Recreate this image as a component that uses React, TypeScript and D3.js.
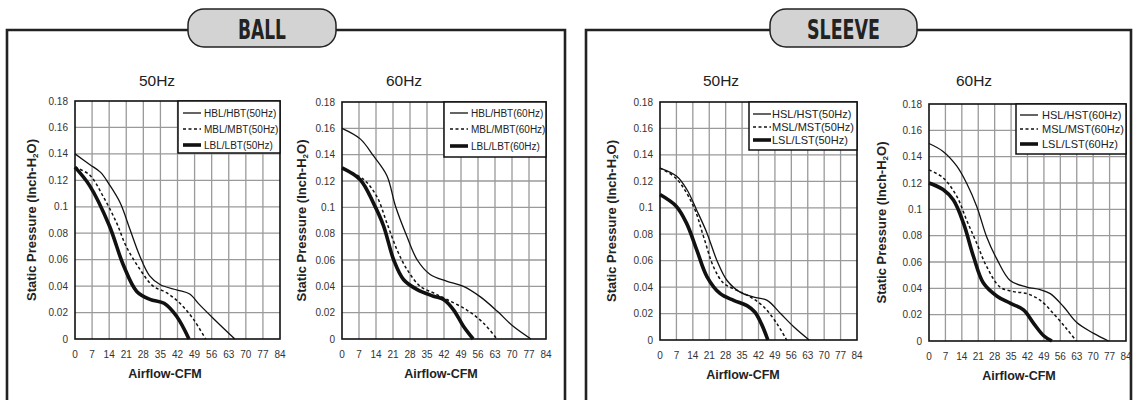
import React from "react";
import * as d3 from "d3";

// ---------- data ----------
const xTicks = [0, 7, 14, 21, 28, 35, 42, 49, 56, 63, 70, 77, 84];
const yTicks = [0, 0.02, 0.04, 0.06, 0.08, 0.1, 0.12, 0.14, 0.16, 0.18];
const yTickLabels = ["0", "0.02", "0.04", "0.06", "0.08", "0.1", "0.12", "0.14", "0.16", "0.18"];

type Pt = [number, number];

// BALL 50Hz
const ballH50: Pt[] = [[0, 0.14], [6, 0.132], [10.5, 0.126], [14, 0.117], [18.5, 0.103], [22.5, 0.083], [26.5, 0.063], [30.5, 0.048], [35, 0.041], [42, 0.037], [47, 0.034], [51, 0.026], [57, 0.015], [65.5, 0]];
const ballM50: Pt[] = [[0, 0.13], [6, 0.124], [11.5, 0.108], [17, 0.088], [21, 0.07], [26.5, 0.053], [32, 0.04], [37.5, 0.035], [43, 0.027], [48.5, 0.015], [53.5, 0]];
const ballL50: Pt[] = [[0, 0.13], [6, 0.116], [14, 0.086], [19.8, 0.056], [25.3, 0.036], [30.7, 0.03], [36.5, 0.027], [41.7, 0.017], [46.7, 0]];
// BALL 60Hz
const ballH60: Pt[] = [[0, 0.16], [7.5, 0.152], [13, 0.139], [18.5, 0.124], [22, 0.101], [26.7, 0.078], [31, 0.06], [36.3, 0.049], [43, 0.044], [50, 0.04], [57, 0.032], [64, 0.021], [70.5, 0.0096], [77.8, 0]];
const ballM60: Pt[] = [[0, 0.13], [9, 0.121], [14.4, 0.108], [18.5, 0.088], [22.6, 0.068], [26.7, 0.053], [32.2, 0.04], [37.7, 0.035], [43.2, 0.03], [51.4, 0.022], [58.3, 0.012], [63.8, 0]];
const ballL60: Pt[] = [[0, 0.13], [7.5, 0.121], [13, 0.103], [17.1, 0.086], [21.3, 0.06], [25.4, 0.045], [31, 0.0375], [37.7, 0.0325], [41.8, 0.03], [46, 0.022], [50, 0.0096], [54, 0]];
// SLEEVE 50Hz
const sleeveH50: Pt[] = [[0, 0.13], [7, 0.124], [11.4, 0.114], [15.7, 0.098], [20, 0.081], [24.3, 0.06], [28.6, 0.045], [34.3, 0.036], [40, 0.0325], [45.7, 0.03], [51.4, 0.02], [57, 0.01], [63.6, 0]];
const sleeveM50: Pt[] = [[0, 0.13], [7, 0.122], [14.3, 0.101], [18.6, 0.078], [22.9, 0.055], [27.1, 0.043], [32.9, 0.0375], [38.6, 0.0325], [44.3, 0.025], [50, 0.012], [54, 0]];
const sleeveL50: Pt[] = [[0, 0.11], [7, 0.101], [11.4, 0.088], [15.7, 0.068], [20, 0.048], [25.7, 0.035], [31.4, 0.03], [37.1, 0.026], [40.5, 0.021], [43.3, 0.012], [46, 0]];
// SLEEVE 60Hz
const sleeveH60: Pt[] = [[0, 0.15], [6, 0.144], [11.8, 0.133], [16, 0.12], [20.4, 0.102], [24.6, 0.079], [29, 0.062], [34.6, 0.046], [41.7, 0.041], [47.4, 0.039], [51.7, 0.036], [57.4, 0.026], [63, 0.014], [70, 0.006], [76.6, 0]];
const sleeveM60: Pt[] = [[0, 0.13], [6, 0.124], [11.8, 0.11], [16, 0.092], [20.4, 0.074], [24.6, 0.0565], [30.3, 0.041], [36, 0.0375], [41.7, 0.036], [47.4, 0.031], [53, 0.021], [58.8, 0.009], [62.8, 0]];
const sleeveL60: Pt[] = [[0, 0.12], [6, 0.115], [10.4, 0.107], [14.7, 0.0895], [19, 0.064], [23.2, 0.044], [29, 0.034], [34.6, 0.0287], [40.3, 0.0236], [44.6, 0.0134], [48.9, 0.004], [52.4, 0]];

const ballLabels50 = ["HBL/HBT(50Hz)", "MBL/MBT(50Hz)", "LBL/LBT(50Hz)"];
const ballLabels60 = ["HBL/HBT(60Hz)", "MBL/MBT(60Hz)", "LBL/LBT(60Hz)"];
const sleeveLabels50 = ["HSL/HST(50Hz)", "MSL/MST(50Hz)", "LSL/LST(50Hz)"];
const sleeveLabels60 = ["HSL/HST(60Hz)", "MSL/MST(60Hz)", "LSL/LST(60Hz)"];

const groupTitles = ["BALL", "SLEEVE"];
const freqTitles = ["50Hz", "60Hz"];

// ---------- styles & layout ----------
const seriesStyles = [
  { w: 1.3, dash: "none" },
  { w: 1.5, dash: "3,2.5" },
  { w: 3.6, dash: "none" },
];

const FONT = "'Liberation Sans', Arial, Helvetica, sans-serif";

const panels = [
  { series: [ballH50, ballM50, ballL50], labels: ballLabels50, title: freqTitles[0],
    plot: { l: 75, r: 280, t: 101, b: 339 }, legend: { x: 178, y: 101, w: 102, h: 52 }, rows: [113, 129, 145],
    lf: 10, lineX: [183, 201], textX: 204, titleX: 157, xTitleX: 165, yTitleX: 31 },
  { series: [ballH60, ballM60, ballL60], labels: ballLabels60, title: freqTitles[1],
    plot: { l: 342, r: 546, t: 102, b: 339 }, legend: { x: 444, y: 102, w: 102, h: 55 }, rows: [113, 129, 146],
    lf: 10, lineX: [450, 468], textX: 471, titleX: 404, xTitleX: 441, yTitleX: 301 },
  { series: [sleeveH50, sleeveM50, sleeveL50], labels: sleeveLabels50, title: freqTitles[0],
    plot: { l: 660, r: 857, t: 102, b: 340 }, legend: { x: 749, y: 102, w: 108, h: 48 }, rows: [114, 127, 140],
    lf: 11, lineX: [753, 771], textX: 772, titleX: 721, xTitleX: 743, yTitleX: 611 },
  { series: [sleeveH60, sleeveM60, sleeveL60], labels: sleeveLabels60, title: freqTitles[1],
    plot: { l: 929, r: 1126, t: 104, b: 341 }, legend: { x: 1016, y: 104, w: 110, h: 50 }, rows: [115, 129, 144],
    lf: 11, lineX: [1020, 1038], textX: 1042, titleX: 974, xTitleX: 1019, yTitleX: 881 },
];

const frames = [
  { l: 7, r: 565, pill: { x: 188, w: 148 }, title: groupTitles[0], tl: 48 },
  { l: 586, r: 1131, pill: { x: 770, w: 147 }, title: groupTitles[1], tl: 73 },
];

function Panel({ p }: { p: (typeof panels)[number] }) {
  const x = d3.scaleLinear().domain([0, 84]).range([p.plot.l, p.plot.r]);
  const y = d3.scaleLinear().domain([0, 0.18]).range([p.plot.b, p.plot.t]);
  const line = d3
    .line<Pt>()
    .x((d) => x(d[0]))
    .y((d) => y(d[1]))
    .curve(d3.curveCatmullRom.alpha(0.5));
  const midY = (p.plot.t + p.plot.b) / 2;
  return (
    <g>
      <text x={p.titleX} y={86} textAnchor="middle" fontFamily={FONT} fontSize={15.5} fill="#222">
        {p.title}
      </text>
      {/* grid */}
      {xTicks.slice(1, -1).map((t) => (
        <line key={"gx" + t} x1={x(t)} x2={x(t)} y1={p.plot.t} y2={p.plot.b} stroke="#9a9a9a" strokeWidth={1.3} />
      ))}
      {yTicks.slice(1, -1).map((t) => (
        <line key={"gy" + t} x1={p.plot.l} x2={p.plot.r} y1={y(t)} y2={y(t)} stroke="#9a9a9a" strokeWidth={1.3} />
      ))}
      <rect x={p.plot.l} y={p.plot.t} width={p.plot.r - p.plot.l} height={p.plot.b - p.plot.t} fill="none" stroke="#111" strokeWidth={1.6} />
      {/* tick labels */}
      {yTicks.map((t, i) => (
        <text key={"yl" + t} x={p.plot.l - 7} y={y(t) + 3.5} textAnchor="end" fontFamily={FONT} fontSize={10} fill="#333">
          {yTickLabels[i]}
        </text>
      ))}
      {xTicks.map((t) => (
        <text key={"xl" + t} x={x(t)} y={p.plot.b + 19} textAnchor="middle" fontFamily={FONT} fontSize={10} fill="#333">
          {t}
        </text>
      ))}
      {/* axis titles */}
      <text x={p.xTitleX} y={p.plot.b + 39} textAnchor="middle" fontFamily={FONT} fontSize={12.5} fontWeight="bold" fill="#222">
        Airflow-CFM
      </text>
      <text
        transform={`translate(${p.yTitleX + 4.5},${midY}) rotate(-90)`}
        textAnchor="middle"
        fontFamily={FONT}
        fontSize={13}
        fontWeight="bold"
        fill="#222"
      >
        Static Pressure (Inch-H
        <tspan fontSize={8} dy={2}>2</tspan>
        <tspan dy={-2}>O)</tspan>
      </text>
      {/* curves */}
      {p.series.map((s, i) => (
        <path
          key={"s" + i}
          d={line(s) || ""}
          fill="none"
          stroke="#111"
          strokeWidth={seriesStyles[i].w}
          strokeDasharray={seriesStyles[i].dash}
          strokeLinejoin="round"
        />
      ))}
      {/* legend */}
      <rect x={p.legend.x} y={p.legend.y} width={p.legend.w} height={p.legend.h} fill="#fff" stroke="#111" strokeWidth={1.5} />
      {p.labels.map((lab, i) => (
        <g key={"lg" + i}>
          <line
            x1={p.lineX[0]}
            x2={p.lineX[1]}
            y1={p.rows[i]}
            y2={p.rows[i]}
            stroke="#111"
            strokeWidth={seriesStyles[i].w}
            strokeDasharray={seriesStyles[i].dash}
          />
          <text x={p.textX} y={p.rows[i] + p.lf * 0.36} fontFamily={FONT} fontSize={p.lf} fill="#222">
            {lab}
          </text>
        </g>
      ))}
    </g>
  );
}

export default function App() {
  return (
    <svg
      width={1137}
      height={400}
      viewBox="0 0 1137 400"
      style={{ position: "absolute", left: 0, top: 0, background: "#fff" }}
    >
      <rect x={0} y={0} width={1137} height={400} fill="#fff" />
      {frames.map((f, i) => (
        <g key={"f" + i}>
          <path d={`M${f.l},410 L${f.l},30 L${f.r},30 L${f.r},410`} fill="none" stroke="#222" strokeWidth={2.6} />
          <rect x={f.pill.x} y={9} width={f.pill.w} height={38} rx={16} ry={16} fill="#d3d3d3" stroke="#222" strokeWidth={1.5} />
          <text
            x={f.pill.x + f.pill.w / 2}
            y={38.5}
            textAnchor="middle"
            fontFamily="'Liberation Sans Narrow', 'DejaVu Sans Condensed', 'Liberation Sans', sans-serif"
            fontSize={27}
            fontWeight="bold"
            fill="#222"
            textLength={f.tl}
            lengthAdjust="spacingAndGlyphs"
          >
            {f.title}
          </text>
        </g>
      ))}
      {panels.map((p, i) => (
        <Panel key={i} p={p} />
      ))}
    </svg>
  );
}
